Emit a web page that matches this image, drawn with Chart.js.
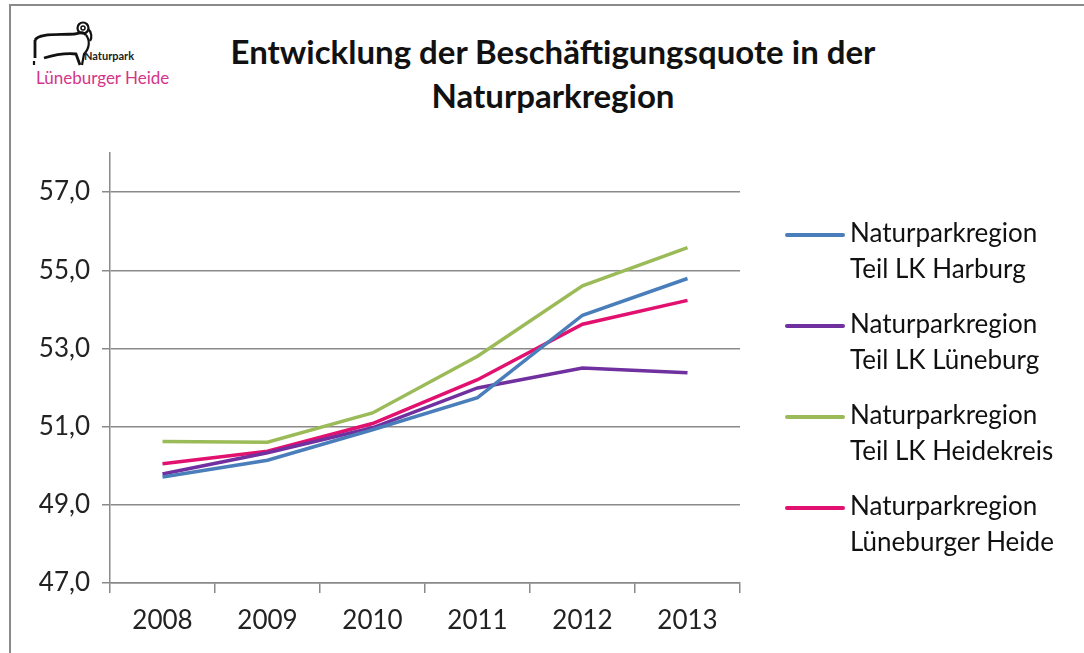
<!DOCTYPE html>
<html>
<head>
<meta charset="utf-8">
<script src="https://cdn.jsdelivr.net/npm/chart.js"></script>
<style>
	body { margin: 0; background: #fff; font-family: Lato, sans-serif; }
	#frame { position: absolute; left: 9px; top: 4px; width: 1100px; height: 700px; border-left: 2px solid #8a8a8a; border-top: 2px solid #8a8a8a; }
	#wrap { position: absolute; left: 0; top: 0; width: 1084px; height: 653px; }
	#title { position: absolute; left: 150px; width: 806px; top: 29px; text-align: center; font-weight: bold; font-size: 33px; line-height: 44px; color: #111; }
	#logo { position: absolute; left: 26px; top: 18px; }
	#logoNp { position: absolute; left: 84px; top: 49px; font-size: 11px; font-weight: bold; color: #222; }
	#logoLh { position: absolute; left: 36px; top: 67px; font-size: 17px; color: #d4348a; }
	#legend { position: absolute; left: 785px; top: 214px; }
	.item { position: relative; height: 91px; }
	.swatch { position: absolute; left: 0; top: 19px; width: 60px; height: 4px; border-radius: 2px; }
	.txt { position: absolute; left: 65px; top: 0; font-size: 26px; line-height: 36px; color: #111; white-space: nowrap; }
</style>
</head>
<body>
<div id="frame"></div>
<svg id="logo" width="80" height="50" viewBox="0 0 80 50">
	<path d="M9 22 C13 15, 32 17, 48 16 C54 15, 57 13, 60 17" stroke="#111" stroke-width="2.8" fill="none"/>
	<path d="M9 22 L9 40" stroke="#111" stroke-width="2.8" fill="none"/>
	<path d="M8 43 L8 47" stroke="#111" stroke-width="2.2" fill="none"/>
	<path d="M18 40 C28 37, 40 35, 50 36 L54 47" stroke="#111" stroke-width="2.8" fill="none"/>
	<path d="M60 17 C64 22, 64 30, 58 36 L56 47" stroke="#111" stroke-width="2.2" fill="none"/>
	<circle cx="57" cy="10" r="5.5" stroke="#111" stroke-width="2.2" fill="none"/>
	<circle cx="57" cy="10" r="2" stroke="#111" stroke-width="1.5" fill="none"/>
	<path d="M62 11 C66 14, 66 20, 64 23" stroke="#111" stroke-width="2.2" fill="none"/>
</svg>
<div id="logoNp">Naturpark</div>
<div id="logoLh">Lüneburger Heide</div>
<div id="title">Entwicklung der Beschäftigungsquote in der<br>Naturparkregion</div>
<div id="wrap"><canvas id="chart" width="1084" height="653"></canvas></div>
<div id="legend"></div>
<script>
const years = ["2008", "2009", "2010", "2011", "2012", "2013"];
const yTicks = [47, 49, 51, 53, 55, 57];

const harburg = [49.71, 50.14, 50.92, 51.74, 53.85, 54.79];
const lueneburg = [49.79, 50.33, 50.97, 51.99, 52.50, 52.38];
const heidekreis = [50.62, 50.60, 51.35, 52.80, 54.60, 55.58];
const heide = [50.05, 50.37, 51.08, 52.20, 53.62, 54.23];

const seriesLabels = [
	["Naturparkregion", "Teil LK Harburg"],
	["Naturparkregion", "Teil LK Lüneburg"],
	["Naturparkregion", "Teil LK Heidekreis"],
	["Naturparkregion", "Lüneburger Heide"],
];
const seriesColors = ["#4a7ebb", "#7030a0", "#9bbb59", "#e2106f"];
const seriesData = [harburg, lueneburg, heidekreis, heide];

const gridColor = "#8a8a8a";
const tickFont = { family: "Lato", size: 26 };

const ctx = document.getElementById("chart").getContext("2d");
const chart = new Chart(ctx, {
	type: "line",
	data: {
		labels: years,
		datasets: seriesData.map((d, i) => ({
			label: seriesLabels[i],
			data: d,
			borderColor: seriesColors[i],
			borderWidth: 3.5,
			pointRadius: 0,
			tension: 0,
			fill: false,
		})),
	},
	options: {
		responsive: false,
		animation: false,
		layout: { padding: { left: 0, right: 344, top: 153, bottom: 0 } },
		plugins: { legend: { display: false }, tooltip: { enabled: false } },
		scales: {
			x: {
				offset: true,
				grid: { offset: true, drawOnChartArea: false, drawTicks: true, tickLength: 10, color: gridColor, lineWidth: 1.5 },
				border: { display: true, color: gridColor, width: 1.5 },
				ticks: { color: "#222", font: tickFont, padding: 12, maxRotation: 0 },
				afterFit: (scale) => { scale.height = 70; },
			},
			y: {
				min: 47,
				max: 58,
				afterBuildTicks: (scale) => { scale.ticks = yTicks.map((v) => ({ value: v })); },
				grid: { color: gridColor, lineWidth: 1.5, tickLength: 8 },
				border: { display: true, color: gridColor, width: 1.5 },
				ticks: {
					color: "#222",
					font: tickFont,
					padding: 12,
					callback: (v) => v.toFixed(1).replace(".", ","),
				},
				afterFit: (scale) => { scale.width = 110; },
			},
		},
	},
});

// legend on the right, two lines per entry
const legend = document.getElementById("legend");
chart.data.datasets.forEach((ds) => {
	const item = document.createElement("div");
	item.className = "item";
	item.innerHTML = '<div class="swatch" style="background:' + ds.borderColor + '"></div>' +
		'<div class="txt">' + ds.label.join("<br>") + "</div>";
	legend.appendChild(item);
});
</script>
</body>
</html>
